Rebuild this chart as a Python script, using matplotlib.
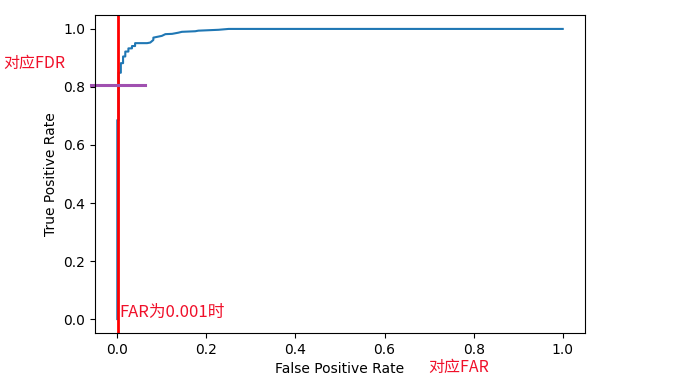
import matplotlib
matplotlib.use("Agg")
import matplotlib.pyplot as plt

plt.rcParams["font.family"] = ["DejaVu Sans", "Noto Sans CJK SC"]
CJK = ["Noto Sans CJK SC", "DejaVu Sans"]

# ROC 曲线拐点
fpr = [0.0, 0.0, 0.003, 0.003, 0.008, 0.008, 0.013, 0.013, 0.018, 0.018,
       0.025, 0.025, 0.033, 0.033, 0.040, 0.040, 0.067, 0.074, 0.081, 0.081,
       0.100, 0.108, 0.123, 0.137, 0.145, 0.175, 0.182, 0.227, 0.250, 1.0]
tpr = [0.0, 0.686, 0.686, 0.849, 0.849, 0.882, 0.882, 0.905, 0.905, 0.922,
       0.922, 0.933, 0.933, 0.941, 0.941, 0.951, 0.951, 0.953, 0.962, 0.970,
       0.976, 0.982, 0.983, 0.987, 0.990, 0.992, 0.994, 0.997, 1.0, 1.0]

far_x = 0.001          # 红线：FAR 为 0.001
fdr_y = 0.807          # 紫线：对应的 TPR
fdr_span = [-0.06, 0.063]

fig = plt.figure(figsize=(6.83, 3.83), dpi=100)
ax = fig.add_axes([95 / 683, 50 / 383, 490 / 683, 318 / 383])

ax.plot(fpr, tpr, color="#1f77b4", lw=1.5)
ax.axvline(far_x, color="red", lw=2)
ax.plot(fdr_span, [fdr_y, fdr_y], color="#a050b0", lw=2.2, clip_on=False)

ax.set_xlim(-0.05, 1.05)
ax.set_ylim(-0.048, 1.048)
ax.set_xlabel("False Positive Rate")
ax.set_ylabel("True Positive Rate")

ax.text(0.005, 0.024, "FAR为0.001时", color="#f0102a", family=CJK, fontsize=12, va="center")
fig.text(3 / 683, 1 - 63 / 383, "对应FDR", color="#f0102a", family=CJK, fontsize=11.5, va="center")
fig.text(428 / 683, 1 - 367 / 383, "对应FAR", color="#f0102a", family=CJK, fontsize=11.5, va="center")

fig.savefig("out.png", dpi=100)
